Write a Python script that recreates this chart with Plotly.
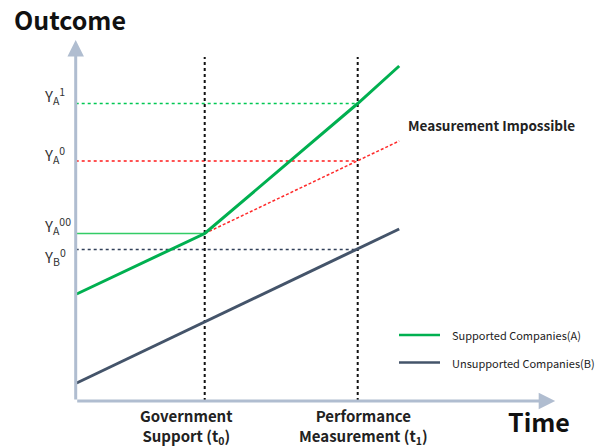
import plotly.graph_objects as go

# Time positions (arbitrary units along the time axis)
t_points = [0.1, 12.9, 28.2, 32.35]          # start, t0, t1, end
t_after = [12.9, 28.2, 32.35]                 # t0, t1, end

# Outcome series
supported = [10.7, 16.75, 29.75, 33.5]        # Supported Companies (A)
counterfactual = [16.75, 24.0, 26.0]          # A without support (not measurable)
unsupported = [1.8, 7.9, 15.15, 17.2]         # Unsupported Companies (B)

# Reference levels read on the outcome axis
level_names = ["Y<sub>A</sub><sup>1</sup>", "Y<sub>A</sub><sup>0</sup>",
               "Y<sub>A</sub><sup>00</sup>", "Y<sub>B</sub><sup>0</sup>"]
level_values = [29.75, 24.0, 16.75, 15.15]
level_until = [28.2, 28.2, 12.9, 28.2]

time_ticks = [12.9, 28.2]
time_labels = ["Government<br>Support (t<sub>0</sub>)",
               "Performance<br>Measurement (t<sub>1</sub>)"]

GREEN = "#00b050"
SLATE = "#44546a"
RED = "#ff2a2a"
AXIS = "#b0bdd0"
FONT = "Noto Sans CJK KR, Noto Sans, sans-serif"

fig = go.Figure()

# Guide lines from the outcome axis to the measured points
guide_styles = [
    dict(color="#00c853", width=1.3, dash="dot"),
    dict(color="#ff1a1a", width=1.3, dash="dot"),
    dict(color="#33cc66", width=1.4, dash="solid"),
    dict(color="#33415a", width=1.3, dash="dot"),
]
for v, until, st in zip(level_values, level_until, guide_styles):
    fig.add_trace(go.Scatter(x=[0, until], y=[v, v], mode="lines",
                             line=st, showlegend=False, hoverinfo="skip"))

# Vertical markers at t0 and t1
for t in time_ticks:
    fig.add_trace(go.Scatter(x=[t, t], y=[0, 34.4], mode="lines",
                             line=dict(color="#111111", width=2, dash="dot"),
                             showlegend=False, hoverinfo="skip"))

fig.add_trace(go.Scatter(x=t_after, y=counterfactual, mode="lines",
                         line=dict(color=RED, width=1.5, dash="3px,2px"),
                         showlegend=False))
fig.add_trace(go.Scatter(x=t_points, y=unsupported, mode="lines",
                         name="Unsupported Companies(B)",
                         line=dict(color=SLATE, width=3), showlegend=False))
fig.add_trace(go.Scatter(x=t_points, y=supported, mode="lines",
                         name="Supported Companies(A)",
                         line=dict(color=GREEN, width=3), showlegend=False))

annotations = []
# Axis arrows
annotations.append(dict(x=0, y=36.1, ax=0, ay=0, xref="x", yref="y",
                        axref="x", ayref="y", text="", showarrow=True,
                        arrowhead=2, arrowsize=1.1, arrowwidth=3, arrowcolor=AXIS))
annotations.append(dict(x=47.95, y=0, ax=0, ay=0, xref="x", yref="y",
                        axref="x", ayref="y", text="", showarrow=True,
                        arrowhead=2, arrowsize=1.1, arrowwidth=3, arrowcolor=AXIS))

# Level labels
shifts = [8, 6, 8, -7]
for name, v, s in zip(level_names, level_values, shifts):
    annotations.append(dict(x=-3.4, y=v, xref="x", yref="y", text=name,
                            showarrow=False, xanchor="left", yanchor="middle",
                            yshift=s, font=dict(family=FONT, size=15, color="#333333")))

# Time labels
tick_shift = [-18, 6]
for t, lab, s in zip(time_ticks, time_labels, tick_shift):
    annotations.append(dict(x=t, y=0, xref="x", yref="y",
                            text="<b>" + lab.replace("<br>", "</b><br><b>") + "</b>",
                            showarrow=False, xanchor="center", yanchor="top",
                            xshift=s, yshift=-2,
                            font=dict(family=FONT, size=15, color="#222222")))

annotations.append(dict(x=-6.4, y=38.2, xref="x", yref="y", text="<b>Outcome</b>",
                        showarrow=False, xanchor="left", yanchor="middle",
                        font=dict(family=FONT, size=25, color="#111111")))
annotations.append(dict(x=43.0, y=-2.0, xref="x", yref="y", text="<b>Time</b>",
                        showarrow=False, xanchor="left", yanchor="middle",
                        font=dict(family=FONT, size=25, color="#111111")))
annotations.append(dict(x=33.0, y=27.6, xref="x", yref="y",
                        text="<b>Measurement Impossible</b>",
                        showarrow=False, xanchor="left", yanchor="middle",
                        font=dict(family=FONT, size=13.5, color="#222222")))

# Legend
legend_items = [("Supported Companies(A)", GREEN, 6.6),
                ("Unsupported Companies(B)", SLATE, 3.85)]
shapes = []
for label, col, yy in legend_items:
    shapes.append(dict(type="line", x0=32.33, x1=36.43, y0=yy, y1=yy,
                       xref="x", yref="y", line=dict(color=col, width=2.5)))
    annotations.append(dict(x=37.45, y=yy, xref="x", yref="y", text=label,
                            showarrow=False, xanchor="left", yanchor="middle",
                            font=dict(family=FONT, size=11, color="#222222")))

fig.update_layout(
    width=602, height=447,
    margin=dict(l=0, r=0, t=0, b=0),
    paper_bgcolor="white", plot_bgcolor="white",
    xaxis=dict(range=[-7.57, 52.63], visible=False, fixedrange=True),
    yaxis=dict(range=[-4.6, 40.1], visible=False, fixedrange=True),
    annotations=annotations, shapes=shapes,
    showlegend=False,
)

fig.write_html("out.html")
